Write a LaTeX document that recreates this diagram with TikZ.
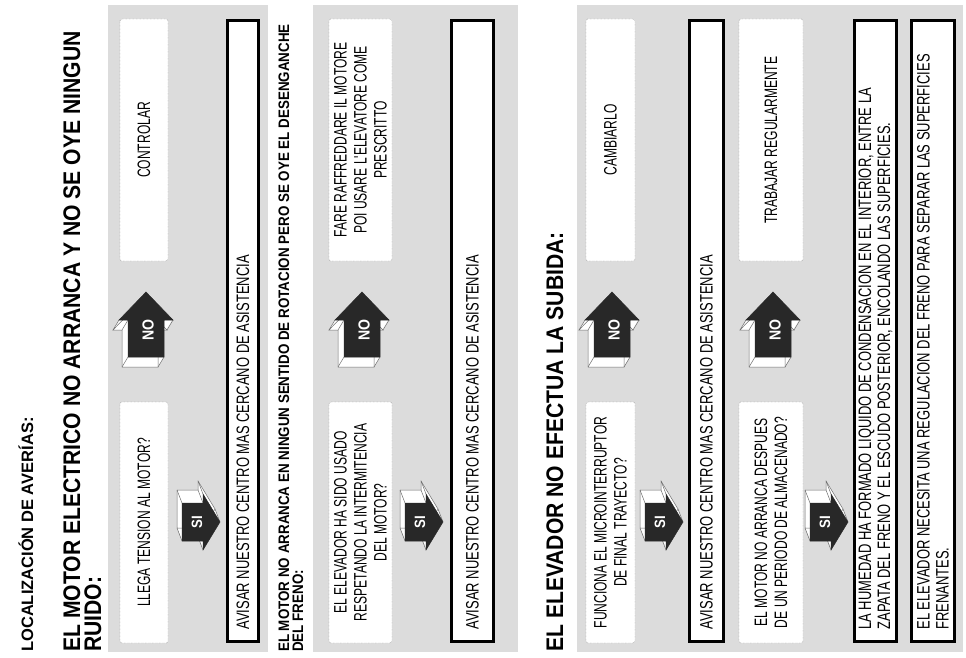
\documentclass[tikz,border=0pt]{standalone}
\usepackage{fontspec}
\setmainfont{Liberation Sans}
\newfontfamily\boxfont{Liberation Sans}[FakeStretch=0.67]
\newfontfamily\warnfont{Liberation Sans}[FakeStretch=0.72]
\newfontfamily\headfont{Liberation Sans}[FakeStretch=0.88]
\usetikzlibrary{positioning}
\definecolor{PanelGray}{RGB}{220,220,220}
\definecolor{ArrowDark}{RGB}{40,40,40}
\definecolor{EdgeGray}{RGB}{110,110,110}
\tikzset{
  qbox/.style={draw=EdgeGray,densely dotted,fill=white,rounded corners=2pt,
               rotate=90,align=center,inner sep=4pt,outer sep=0pt,
               font=\boxfont\fontsize{18}{20}\selectfont},
  tbox/.style={draw=black,line width=3pt,fill=white,rotate=90,
               minimum width=621,text width=597,inner xsep=12,align=flush left,
               outer sep=0pt,font=\warnfont\fontsize{18}{19}\selectfont},
  headtxt/.style={rotate=90,anchor=base west,inner sep=0pt},
  arrfront/.style={fill=ArrowDark,draw=ArrowDark,line width=0.5pt},
  arredge/.style={draw=EdgeGray,line width=0.5pt},
  arrlbl/.style={rotate=90,text=white,inner sep=0pt,font=\headfont\bfseries},
  siarrow/.pic={
    \foreach \t in {0,1,...,10}
      \fill[white,shift={(-0.5*\t,-1.3*\t)}] (0,-19) -- (21,-19) -- (21,-28) -- (38,0) -- (21,28) -- (21,19) -- (0,19) -- cycle;
    \draw[arredge,shift={(-5,-13)}] (0,-19) -- (21,-19) -- (21,-28) -- (38,0) -- (21,28) -- (21,19) -- (0,19) -- cycle;
    \foreach \p in {(0,-19),(21,-19),(21,-28),(38,0),(21,28),(21,19),(0,19)}
      \draw[arredge] \p -- ++(-5,-13);
    \filldraw[arrfront] (0,-19) -- (21,-19) -- (21,-28) -- (38,0) -- (21,28) -- (21,19) -- (0,19) -- cycle;
    \node[arrlbl,font=\headfont\bfseries\fontsize{15}{15}\selectfont] (-lbl) at (15,0) {SI};
  },
  noarrow/.pic={
    \foreach \t in {0,1,...,10}
      \fill[white,shift={(-0.6*\t,\t)}] (-18,0) -- (-18,-37) -- (-27,-37) -- (0,-65) -- (27,-37) -- (18,-37) -- (18,0) -- cycle;
    \draw[arredge,shift={(-6,10)}] (-18,0) -- (-18,-37) -- (-27,-37) -- (0,-65) -- (27,-37) -- (18,-37) -- (18,0) -- cycle;
    \foreach \p in {(-18,0),(-18,-37),(-27,-37),(0,-65),(27,-37),(18,-37),(18,0)}
      \draw[arredge] \p -- ++(-6,10);
    \filldraw[arrfront] (-18,0) -- (-18,-37) -- (-27,-37) -- (0,-65) -- (27,-37) -- (18,-37) -- (18,0) -- cycle;
    \node[arrlbl,font=\headfont\bfseries\fontsize{16}{16}\selectfont] (-lbl) at (2,-27) {NO};
  },
}

\begin{document}
\begin{tikzpicture}[x=1pt,y=-1pt]
    \useasboundingbox (0,0) rectangle (966,658);
    \fill[white] (0,0) rectangle (966,658);

    % Panels
    \fill[PanelGray] (108,5) rectangle (268,652);
    \fill[PanelGray] (313,5) rectangle (518,652);
    \fill[PanelGray] (577,5) rectangle (963,652);

    % Headings
    \node[headtxt,font=\bfseries\fontsize{16.5}{16.5}\selectfont] (title) at (33,652) {LOCALIZACIÓN DE AVERÍAS:};
    \node[headtxt,font=\headfont\bfseries\fontsize{24}{20}\selectfont] (head1) at (80,652) {EL MOTOR ELECTRICO NO ARRANCA Y NO SE OYE NINGUN};
    \node[headtxt,font=\headfont\bfseries\fontsize{24}{20}\selectfont] (head1b) at (101,652) {RUIDO:};
    \node[headtxt,font=\headfont\bfseries\fontsize{15.2}{14}\selectfont] (head2) at (289,652) {EL MOTOR NO ARRANCA EN NINGUN SENTIDO DE ROTACION PERO SE OYE EL DESENGANCHE};
    \node[headtxt,font=\headfont\bfseries\fontsize{15.2}{14}\selectfont] (head2b) at (303,652) {DEL FRENO:};
    \node[headtxt,font=\headfont\bfseries\fontsize{24}{20}\selectfont] (head3) at (563,652) {EL ELEVADOR NO EFECTUA LA SUBIDA:};

    % Panel 1
    \node[qbox,minimum width=241,minimum height=48] (q1) at (144,522.5) {LLEGA TENSION AL MOTOR?};
    \node[qbox,minimum width=242,minimum height=48] (a1) at (144,140) {CONTROLAR};
    \node[tbox,minimum height=31] (w1) at (243,331) {AVISAR NUESTRO CENTRO MAS CERCANO DE ASISTENCIA};
    \pic (si1) at (182,522) {siarrow};
    \pic (no1) at (146,357) {noarrow};

    % Panel 2
    \node[qbox,minimum width=241,minimum height=63] (q2) at (360.5,522.5) {EL ELEVADOR HA SIDO USADO\\RESPETANDO LA INTERMITENCIA\\DEL MOTOR?};
    \node[qbox,minimum width=242,minimum height=63] (a2) at (360.5,140) {FARE RAFFREDDARE IL MOTORE\\POI USARE L'ELEVATORE COME\\PRESCRITTO};
    \node[tbox,minimum height=42] (w2) at (472.5,331) {AVISAR NUESTRO CENTRO MAS CERCANO DE ASISTENCIA};
    \pic (si2) at (405,522) {siarrow};
    \pic (no2) at (362,357) {noarrow};

    % Panel 3
    \node[qbox,minimum width=241,minimum height=49] (q3) at (610.5,522.5) {FUNCIONA EL MICROINTERRUPTOR\\DE FINAL TRAYECTO?};
    \node[qbox,minimum width=242,minimum height=49] (a3) at (610.5,140) {CAMBIARLO};
    \node[tbox,minimum height=34] (w3) at (706.5,331) {AVISAR NUESTRO CENTRO MAS CERCANO DE ASISTENCIA};
    \pic (si3) at (645,522) {siarrow};
    \pic (no3) at (612,357) {noarrow};
    \node[qbox,minimum width=241,minimum height=64] (q4) at (771,522.5) {EL MOTOR NO ARRANCA DESPUES\\DE UN PERIODO DE ALMACENADO?};
    \node[qbox,minimum width=242,minimum height=64] (a4) at (771,140) {TRABAJAR REGULARMENTE};
    \pic (si4) at (810,522) {siarrow};
    \pic (no4) at (773,357) {noarrow};
    \node[tbox,minimum height=42] (w4) at (875.5,331) {LA HUMEDAD HA FORMADO LIQUIDO DE CONDENSACION EN EL INTERIOR, ENTRE LA\\ZAPATA DEL FRENO Y EL ESCUDO POSTERIOR, ENCOLANDO LAS SUPERFICIES.};
    \node[tbox,minimum height=43] (w5) at (933,331) {EL ELEVADOR NECESITA UNA REGULACION DEL FRENO PARA SEPARAR LAS SUPERFICIES\\FRENANTES.};
\end{tikzpicture}
\end{document}
